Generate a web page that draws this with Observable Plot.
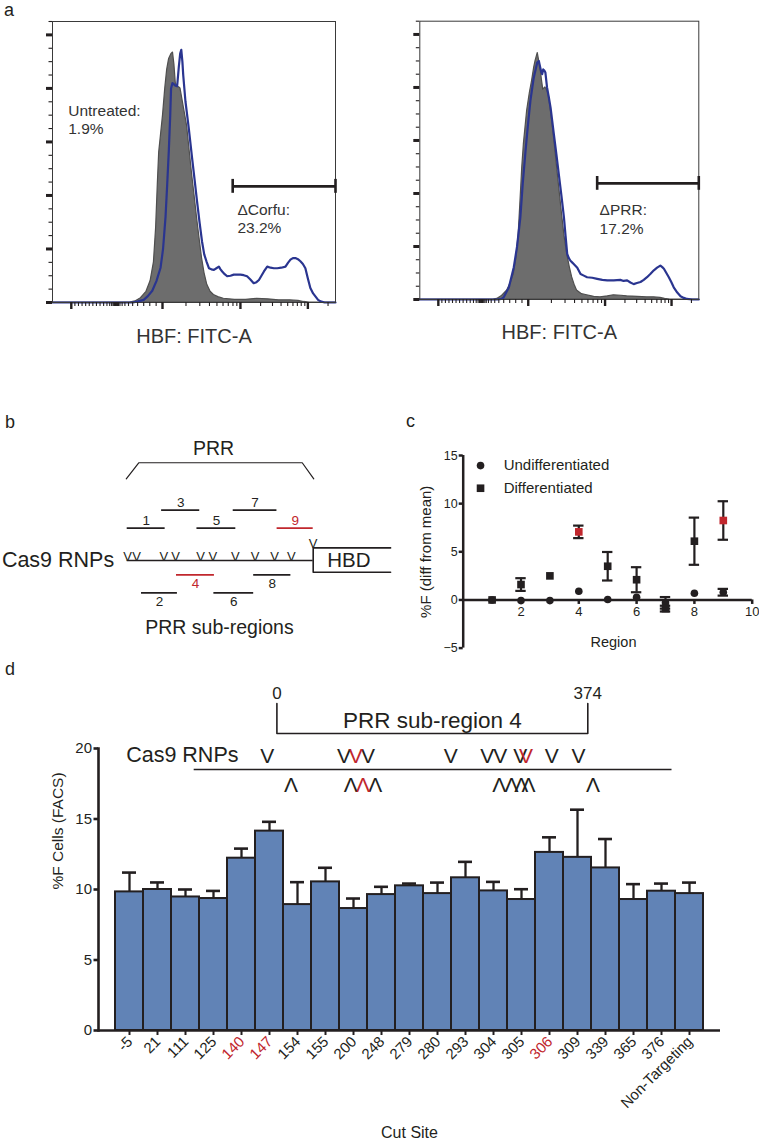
<!DOCTYPE html>
<html>
<head>
<meta charset="utf-8">
<script src="https://cdn.jsdelivr.net/npm/d3@7"></script>
<script src="https://cdn.jsdelivr.net/npm/@observablehq/plot@0.6"></script>
<style>
  html, body { margin: 0; padding: 0; background: #fff; }
  #fig { position: relative; width: 759px; height: 1145px; overflow: hidden; background: #fff;
         font-family: "Liberation Sans", Arial, Helvetica, sans-serif; color: #231f20; }
</style>
</head>
<body>
<div id="fig"></div>
<script>
// ================= DATA =================
// ---- Panel a: flow cytometry histograms (x = FITC channel 0–1024, y = relative count) ----
const facsChannelMax = 1024;
const countMax = 5.25;
const facsAxisLabel = "HBF: FITC-A";
const corfuUntreated = [[0,0],[280,0],[300,0.02],[320,0.08],[340,0.2],[355,0.4],[367,0.75],[375,1.4],[381,2.2],[386,2.8],[392,3.1],[400,3.5],[408,4.0],[415,4.35],[422,4.55],[430,4.64],[436,4.67],[441,4.45],[446,4.1],[452,4.03],[458,4.02],[463,4.0],[475,3.65],[487,3.3],[496,2.85],[505,2.4],[514,2.0],[523,1.58],[532,1.2],[541,0.83],[550,0.55],[560,0.33],[572,0.2],[584,0.14],[600,0.1],[620,0.07],[660,0.05],[700,0.05],[740,0.07],[780,0.06],[820,0.04],[860,0.04],[890,0.03],[910,0.01],[930,0],[1024,0]];
const corfuEdited = [[0,0],[290,0],[310,0.02],[330,0.05],[345,0.12],[361,0.22],[376,0.4],[391,0.65],[400,1.0],[409,1.6],[415,2.2],[421,2.85],[426,3.5],[429,4.0],[434,4.1],[439,4.08],[445,4.05],[451,4.04],[457,4.4],[462,4.65],[466,4.72],[470,4.5],[473,4.25],[481,3.76],[493,3.26],[505,2.7],[514,2.3],[523,1.89],[532,1.5],[541,1.14],[549,0.9],[557,0.77],[566,0.64],[575,0.62],[584,0.61],[593,0.64],[602,0.67],[608,0.62],[614,0.58],[623,0.53],[632,0.49],[644,0.5],[656,0.52],[668,0.52],[680,0.52],[692,0.51],[704,0.49],[716,0.43],[728,0.36],[738,0.38],[747,0.42],[756,0.5],[765,0.58],[777,0.67],[789,0.65],[801,0.64],[813,0.64],[828,0.65],[843,0.67],[852,0.74],[861,0.8],[870,0.83],[879,0.83],[888,0.81],[897,0.77],[906,0.72],[915,0.64],[924,0.45],[933,0.27],[943,0.17],[952,0.11],[961,0.05],[970,0.02],[985,0],[1024,0]];
const prrUntreated = [[0,0],[270,0],[284,0.01],[300,0.06],[321,0.17],[333,0.3],[345,0.48],[355,0.8],[363,1.24],[370,1.9],[376,2.49],[382,2.93],[394,3.56],[404,3.9],[412,4.12],[420,4.38],[425,4.5],[433,4.65],[438,4.5],[443,4.37],[448,4.15],[453,3.96],[461,4.0],[467,3.95],[473,3.87],[480,3.6],[486,3.37],[495,2.95],[504,2.49],[513,2.05],[522,1.61],[531,1.2],[541,0.86],[550,0.62],[559,0.42],[568,0.28],[577,0.17],[595,0.1],[614,0.08],[640,0.05],[663,0.04],[690,0.06],[712,0.08],[740,0.07],[761,0.06],[800,0.05],[834,0.04],[860,0.04],[883,0.03],[900,0.01],[920,0],[1024,0]];
const prrEdited = [[0,0],[285,0],[300,0.01],[308,0.04],[327,0.23],[345,0.61],[357,1.0],[369,1.55],[378,2.2],[388,2.8],[397,3.3],[406,3.75],[418,4.18],[431,4.47],[437,4.5],[441,4.4],[445,4.31],[449,4.25],[453,4.34],[457,4.32],[461,4.28],[467,4.0],[474,3.8],[480,3.62],[486,3.37],[492,3.12],[501,2.75],[510,2.37],[520,1.95],[529,1.55],[535,1.2],[541,0.86],[547,0.78],[553,0.73],[559,0.7],[565,0.67],[578,0.6],[590,0.48],[602,0.45],[614,0.42],[633,0.41],[651,0.39],[670,0.37],[688,0.36],[712,0.36],[736,0.37],[748,0.35],[761,0.36],[773,0.32],[785,0.29],[797,0.31],[810,0.33],[822,0.37],[834,0.42],[846,0.48],[859,0.55],[871,0.6],[883,0.64],[890,0.61],[896,0.58],[905,0.5],[914,0.42],[923,0.33],[932,0.23],[945,0.13],[957,0.06],[969,0.03],[981,0.01],[1000,0],[1024,0]];
const facsMajorTicks = [68, 398, 680, 924];
const facsMinorTicks = [81, 94, 107, 120, 133, 146, 159, 172, 185, 197, 207, 214, 219, 222, 224, 226, 228, 230, 232, 235, 239, 244, 252, 262, 275, 290, 308, 330, 352, 375,
                        483, 533, 568, 595, 617, 636, 653, 667, 753, 796, 827, 851, 870, 886, 900, 913, 997];
const countMajorTicks = [0, 1, 2, 3, 4, 5];
const countMinorTicks = [0.25, 0.5, 0.75, 1.25, 1.5, 1.75, 2.25, 2.5, 2.75, 3.25, 3.5, 3.75, 4.25, 4.5, 4.75, 5.25];
const gateStartCh = [652, 651];
const gateLevel = [2.17, 2.19];
const gateLabels = ["\u0394Corfu:\n23.2%", "\u0394PRR:\n17.2%"];
const gateLabelAt = [[669, 1.58], [660, 1.53]];
const untreatedLabel = "Untreated:\n1.9%";
const untreatedLabelAt = [57, 3.43];

// ---- Panel b: PRR schematic (x = position along PRR, %) ----
const subRegionId    = [1, 2, 3, 4, 5, 6, 7, 8, 9];
const subRegionStart = [0, 7.7, 18.5, 26.5, 37.5, 46.6, 57, 68, 80.6];
const subRegionEnd   = [20.4, 27, 39, 46.9, 58.4, 68, 80.5, 88, 100];
const subRegionTrack = ["upper1", "lower2", "upper2", "lower1", "upper1", "lower2", "upper2", "lower1", "upper1"];
const highlightedSubRegions = [4, 9];
const prrCutSites = [0.2, 5.0, 19.7, 26.0, 39.4, 46.0, 58.2, 68.8, 79.2, 88.2];

// ---- Panel c: %F difference from mean by region ----
const regions = [1, 2, 3, 4, 5, 6, 7, 8, 9];
const undifferentiated    = [0, -0.07, -0.07, 0.9, 0.05, 0.28, -0.3, 0.69, 0.8];
const undifferentiatedErr = [0, 0, 0, 0, 0, 0, 0.6, 0, 0.35];
const differentiated      = [0, 1.6, 2.5, 7.07, 3.5, 2.1, -0.9, 6.1, 8.25];
const differentiatedErr   = [0, 0.66, 0, 0.65, 1.48, 1.3, 0.3, 2.45, 2.0];
const highlightedRegions = [4, 9];
const legendLabels = ["Undifferentiated", "Differentiated"];

// ---- Panel d: %F cells by cut site ----
const cutSites = ["-5", "21", "111", "125", "140", "147", "154", "155", "200", "248", "279", "280", "293", "304", "305", "306", "309", "339", "365", "376", "Non-Targeting"];
const pctF    = [9.83, 10.0, 9.47, 9.36, 12.22, 14.14, 8.93, 10.54, 8.65, 9.64, 10.26, 9.71, 10.83, 9.9, 9.29, 12.63, 12.28, 11.53, 9.29, 9.88, 9.71];
const pctFErr = [1.37, 0.5, 0.53, 0.54, 0.68, 0.66, 1.59, 1.0, 0.71, 0.55, 0.16, 0.78, 1.13, 0.64, 0.73, 1.07, 3.38, 2.05, 1.09, 0.54, 0.78];
const highlightedSites = ["140", "147", "306"];
// RNP cut sites in sub-region 4 schematic (strand: "+" above line, "-" below), drawn position in bp
const rnpSite    = [-5, 21, 111, 125, 140, 147, 154, 155, 200, 248, 279, 280, 293, 304, 305, 306, 309, 339, 365, 376];
const rnpStrand  = ["+", "-", "+", "-", "+", "-", "+", "-", "+", "+", "-", "+", "-", "+", "-", "+", "-", "+", "+", "-"];
const rnpDrawnAt = [-11.7, 17, 80.8, 89, 94.8, 103.6, 109.5, 118.2, 209, 252.9, 267.6, 268.7, 282.2, 292.7, 293.9, 299.6, 302.7, 330.7, 362.9, 380.4];
const subRegion4Length = 374;

// ================= RENDER =================
const FONT = '"Liberation Sans", Arial, Helvetica, sans-serif';
const INK = "#231f20", RED = "#c1272d", BAR = "#6183b6", NAVY = "#2a3590", GREY = "#6d6d6d";
const fig = document.getElementById("fig");
function put(node, left, top) {
  node.style.position = "absolute";
  node.style.left = left + "px";
  node.style.top = top + "px";
  fig.appendChild(node);
}
const style = {fontFamily: FONT, color: INK, background: "transparent", overflow: "visible"};

// ---- Panel a ----
function facsPanel(untreated, edited, gi, extraNote, dims) {
  const gate = [{from: gateStartCh[gi], to: facsChannelMax, level: gateLevel[gi]}];
  const marks = [
    Plot.areaY(untreated, {x: d => d[0], y: d => d[1], fill: GREY, stroke: "#4f4f4f", strokeWidth: 1.2}),
    Plot.line(edited, {x: d => d[0], y: d => d[1], stroke: NAVY, strokeWidth: 2.2}),
    Plot.frame({stroke: "#3a3a3a", strokeWidth: 1}),
    Plot.axisX({ticks: facsMinorTicks, tickSize: 4, strokeWidth: 1.1, tickFormat: () => "", label: null}),
    Plot.axisX({ticks: facsMajorTicks, tickSize: 7, strokeWidth: 2.4, tickFormat: () => "", label: null}),
    Plot.axisY({ticks: countMinorTicks, tickSize: 3.5, strokeWidth: 1.1, tickFormat: () => "", label: null}),
    Plot.axisY({ticks: countMajorTicks, tickSize: 6, strokeWidth: 3, tickFormat: () => "", label: null}),
    Plot.ruleY(gate, {y: "level", x1: "from", x2: "to", stroke: INK, strokeWidth: 2.6}),
    Plot.ruleX(gate.flatMap(g => [g.from, g.to]), {x: d => d, y1: gateLevel[gi] - 0.13, y2: gateLevel[gi] + 0.13, stroke: INK, strokeWidth: 2.6}),
    Plot.text([gateLabels[gi]], {x: gateLabelAt[gi][0], y: gateLabelAt[gi][1], textAnchor: "start", lineHeight: 1.2, fontSize: 15.5, fill: "#333"}),
    Plot.text([facsAxisLabel], {frameAnchor: "bottom", dy: 40, fontSize: 20, fill: "#333"})
  ];
  if (extraNote) marks.push(Plot.text([extraNote.text], {x: extraNote.at[0], y: extraNote.at[1], textAnchor: "start", lineHeight: 1.2, fontSize: 15.5, fill: "#333"}));
  return Plot.plot({
    width: dims.width, height: dims.height,
    marginLeft: dims.ml, marginRight: 10, marginTop: dims.mt, marginBottom: 50,
    x: {domain: [0, facsChannelMax], axis: null, label: null},
    y: {domain: [0, countMax], axis: null, label: null},
    style, marks
  });
}
put(facsPanel(corfuUntreated, corfuEdited, 0, {text: untreatedLabel, at: untreatedLabelAt}, {width: 345, height: 352, ml: 52, mt: 21}), 0, 0);
put(facsPanel(prrUntreated, prrEdited, 1, null, {width: 328.3, height: 349, ml: 39.3, mt: 20.7}), 380, 0);

// ---- Panel b ----
const TRACK_Y = {upper2: 2.8, upper1: 1.8, lower1: -0.8, lower2: -1.8};
const subs = subRegionId.map((id, i) => ({id: String(id), start: subRegionStart[i], end: subRegionEnd[i], track: subRegionTrack[i], red: highlightedSubRegions.includes(id)}));
const upperSubs = subs.filter(d => d.track.startsWith("upper"));
const lowerSubs = subs.filter(d => d.track.startsWith("lower"));
const subColor = d => d.red ? RED : INK;
const pb = Plot.plot({
  width: 400, height: 210, marginLeft: 126.7, marginRight: 87.3, marginTop: 0, marginBottom: 0,
  x: {domain: [0, 100], axis: null}, y: {domain: [-4.444, 7.222], axis: null}, style,
  marks: [
    Plot.line([[-0.5, 4.54], [6.2, 5.43], [94.1, 5.43], [100.3, 4.54]], {x: d => d[0], y: d => d[1], stroke: INK, strokeWidth: 1.2}),
    Plot.text(["PRR"], {x: 46.4, y: 6.22, fontSize: 19.5, fill: INK}),
    Plot.ruleY(subs, {y: d => TRACK_Y[d.track], x1: "start", x2: "end", stroke: subColor, strokeWidth: 1.6}),
    Plot.text(upperSubs, {x: d => (d.start + d.end) / 2, y: d => TRACK_Y[d.track], text: "id", dy: -7.5, fill: subColor, fontSize: 13.5}),
    Plot.text(lowerSubs, {x: d => (d.start + d.end) / 2, y: d => TRACK_Y[d.track], text: "id", dy: 9, fill: subColor, fontSize: 13.5}),
    Plot.ruleY([0], {x1: 0, x2: 100, stroke: INK, strokeWidth: 1.6}),
    Plot.text(prrCutSites, {x: d => d, y: 0, text: () => "V", lineAnchor: "bottom", fontSize: 13, fill: INK}),
    Plot.line([[141.6, 0.7], [100, 0.7], [100, -0.65], [141.6, -0.65]], {x: d => d[0], y: d => d[1], stroke: INK, strokeWidth: 1.6}),
    Plot.text([100], {x: d => d, y: 0.7, text: () => "V", lineAnchor: "bottom", fontSize: 13, fill: INK}),
    Plot.text(["HBD"], {x: 119.2, y: 0, fontSize: 20.5, fill: INK}),
    Plot.text(["Cas9 RNPs"], {x: 0, y: 0, dx: -13, textAnchor: "end", fontSize: 21.5, fill: INK}),
    Plot.text(["PRR sub-regions"], {x: 49.6, y: -3.72, fontSize: 19.5, fill: INK})
  ]
});
put(pb, 0, 430);

// ---- Panel c ----
const cData = regions.map((r, i) => ({r, u: undifferentiated[i], ue: undifferentiatedErr[i], d: differentiated[i], de: differentiatedErr[i], red: highlightedRegions.includes(r)}));
const errBars = [];
cData.forEach(d => {
  if (d.ue) errBars.push({x: d.r, lo: d.u - d.ue, hi: d.u + d.ue});
  if (d.de) errBars.push({x: d.r, lo: d.d - d.de, hi: d.d + d.de});
});
const errCaps = errBars.flatMap(b => [{x: b.x, y: b.lo}, {x: b.x, y: b.hi}]);
const cMT = 85, cMB = 22.4, cH = 300;
const cInner = cH - cMT - cMB;
const cYDomain = [-5, 15];
const pc = Plot.plot({
  width: 359, height: cH, marginLeft: 62.7, marginRight: 7.3, marginTop: cMT, marginBottom: cMB,
  x: {domain: [0, 10], axis: null}, y: {domain: cYDomain, axis: null}, style,
  marks: [
    Plot.ruleX([0], {stroke: INK, strokeWidth: 2.5}),
    Plot.axisY({ticks: [-5, 0, 5, 10, 15], tickSize: 4, strokeWidth: 2.5, tickPadding: 1.5, fontSize: 12.5, label: null}),
    Plot.ruleY([0], {stroke: INK, strokeWidth: 2.5}),
    Plot.axisX({ticks: [2, 4, 6, 8, 10], tickSize: 4.5, strokeWidth: 2.5, tickPadding: 2, fontSize: 13, label: null, dy: -cInner * 5 / 20}),
    Plot.ruleX(errBars, {x: "x", y1: "lo", y2: "hi", stroke: INK, strokeWidth: 2.2}),
    Plot.ruleY(errCaps, {y: "y", x1: d => d.x - 0.18, x2: d => d.x + 0.18, stroke: INK, strokeWidth: 2.2}),
    Plot.dot(cData, {x: "r", y: "u", r: 3.8, fill: INK, stroke: null}),
    Plot.dot(cData, {x: "r", y: "d", r: 4.3, symbol: "square", fill: d => d.red ? RED : INK, stroke: null}),
    Plot.dot([legendLabels[0]], {x: 0.6, y: 13.95, r: 3.8, fill: INK}),
    Plot.dot([legendLabels[1]], {x: 0.6, y: 11.6, r: 4.3, symbol: "square", fill: INK}),
    Plot.text([legendLabels[0]], {x: 1.4, y: 13.95, textAnchor: "start", fontSize: 15, fill: INK}),
    Plot.text([legendLabels[1]], {x: 1.4, y: 11.6, textAnchor: "start", fontSize: 15, fill: INK}),
    Plot.text(["%F (diff from mean)"], {x: 0, y: (cYDomain[0] + cYDomain[1]) / 2, rotate: -90, dx: -37, fontSize: 15, fill: INK}),
    Plot.text(["Region"], {x: 5.2, y: -4.4, fontSize: 14.5, fill: INK})
  ]
});
put(pc, 400, 370);

// ---- Panel d: bars ----
const bars = cutSites.map((s, i) => ({site: s, value: pctF[i], top: pctF[i] + pctFErr[i], red: highlightedSites.includes(s)}));
const pd = Plot.plot({
  width: 759, height: 505, marginLeft: 98, marginRight: 39, marginTop: 108, marginBottom: 115,
  x: {domain: cutSites, padding: 0, insetLeft: 13, insetRight: 13, axis: null},
  y: {domain: [0, 20], axis: null}, style,
  marks: [
    Plot.ruleX(bars, {x: "site", y1: "value", y2: "top", stroke: INK, strokeWidth: 2.3}),
    Plot.tickY(bars, {x: "site", y: "top", stroke: INK, strokeWidth: 2.6, insetLeft: 7, insetRight: 7}),
    Plot.barY(bars, {x: "site", y: "value", fill: BAR, stroke: INK, strokeWidth: 2}),
    Plot.frame({anchor: "left", stroke: INK, strokeWidth: 2.6}),
    Plot.ruleY([0], {stroke: INK, strokeWidth: 2.6}),
    Plot.axisY({ticks: [0, 5, 10, 15, 20], tickSize: 4.5, strokeWidth: 2.6, tickPadding: 2, fontSize: 15, label: null}),
    Plot.axisX({tickSize: 5, strokeWidth: 2, tickFormat: () => "", label: null}),
    Plot.text(bars, {x: "site", text: "site", frameAnchor: "bottom", rotate: -45, textAnchor: "end", dx: 4, dy: 12, fontSize: 15, fill: d => d.red ? RED : INK}),
    Plot.text(["%F Cells (FACS)"], {frameAnchor: "left", rotate: -90, dx: -40.5, fontSize: 15.5, fill: INK}),
    Plot.text(["Cut Site"], {frameAnchor: "bottom", dy: 107, fontSize: 16, fill: INK})
  ]
});
put(pd, 0, 640);

// ---- Panel d: sub-region 4 schematic ----
const rnps = rnpSite.map((s, i) => ({site: String(s), strand: rnpStrand[i], at: rnpDrawnAt[i], red: highlightedSites.includes(String(s))}));
const glyph = d => d.strand === "+" ? "V" : "\u039B";
const pdTop = Plot.plot({
  width: 759, height: 150, marginLeft: 276.4, marginRight: 171.7, marginTop: 0, marginBottom: 10,
  x: {domain: [0, subRegion4Length], axis: null}, y: {domain: [0, 14], axis: null}, style,
  marks: [
    Plot.line([[0, 9.7], [0, 6.7], [subRegion4Length, 6.7], [subRegion4Length, 9.7]], {x: d => d[0], y: d => d[1], stroke: INK, strokeWidth: 1.6}),
    Plot.text([0, subRegion4Length], {x: d => d, y: 10.7, text: d => String(d), fontSize: 17, fill: INK}),
    Plot.text(["PRR sub-region 4"], {x: subRegion4Length / 2, y: 8.0, fontSize: 22.5, fill: INK}),
    Plot.ruleY([3.1], {x1: -99.5, x2: 475.3, stroke: INK, strokeWidth: 1.6}),
    Plot.text(["Cas9 RNPs"], {x: -46.2, y: 4.5, textAnchor: "end", fontSize: 21.5, fill: INK}),
    Plot.text(rnps.filter(d => d.strand === "+" && !d.red), {x: "at", y: 3.8, text: glyph, lineAnchor: "bottom", fontSize: 21, fill: INK}),
    Plot.text(rnps.filter(d => d.strand === "-" && !d.red), {x: "at", y: 2.3, text: glyph, lineAnchor: "top", fontSize: 21, fill: INK}),
    Plot.text(rnps.filter(d => d.strand === "+" && d.red), {x: "at", y: 3.8, text: glyph, lineAnchor: "bottom", fontSize: 21, fill: RED}),
    Plot.text(rnps.filter(d => d.strand === "-" && d.red), {x: "at", y: 2.3, text: glyph, lineAnchor: "top", fontSize: 21, fill: RED})
  ]
});
put(pdTop, 0, 660);

// ---- Panel letters ----
const letters = d3.create("svg").attr("width", 759).attr("height", 1145)
  .style("position", "absolute").style("left", "0px").style("top", "0px").style("pointer-events", "none");
[["a", 4, 16], ["b", 5, 428], ["c", 406, 427], ["d", 5, 675]].forEach(([t, x, y]) => {
  letters.append("text").attr("x", x).attr("y", y).attr("font-family", FONT).attr("font-size", 18).attr("fill", INK).text(t);
});
fig.appendChild(letters.node());
</script>
</body>
</html>
